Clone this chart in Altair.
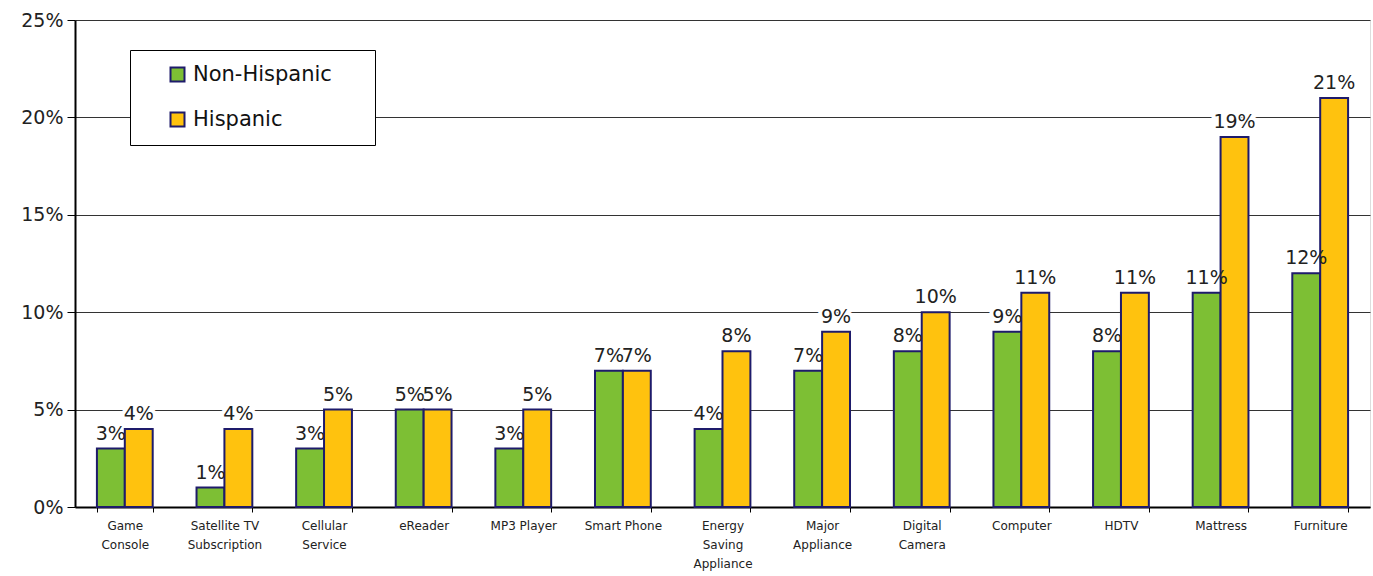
import altair as alt
import pandas as pd

categories = ["Game|Console", "Satellite TV|Subscription", "Cellular|Service", "eReader",
              "MP3 Player", "Smart Phone", "Energy|Saving|Appliance", "Major|Appliance",
              "Digital|Camera", "Computer", "HDTV", "Mattress", "Furniture"]
non_hispanic = [3, 1, 3, 5, 3, 7, 4, 7, 8, 9, 8, 11, 12]
hispanic = [4, 4, 5, 5, 5, 7, 8, 9, 10, 11, 11, 19, 21]
series = ["Non-Hispanic", "Hispanic"]
colors = ["#7DBF34", "#FFC20E"]
y_ticks = [0, 5, 10, 15, 20, 25]

rows = []
for c, a, b in zip(categories, non_hispanic, hispanic):
    rows.append({"category": c, "series": series[0], "value": a, "label": f"{a}%"})
    rows.append({"category": c, "series": series[1], "value": b, "label": f"{b}%"})
df = pd.DataFrame(rows)

FONT = "DejaVu Sans"
PAD = "\u00a0\u00a0\u2800"

x_enc = alt.X("category:N", sort=categories, title=None,
              scale=alt.Scale(paddingInner=0.44, paddingOuter=0.22),
              axis=alt.Axis(labelExpr="split(datum.label, '|')", labelAngle=0,
                            labelFontSize=12, labelLineHeight=19, labelPadding=8,
                            labelColor="#222", labelFont=FONT, labelBaseline="top",
                            tickBand="extent", tickSize=5, tickColor="#000",
                            domainColor="#000", domainWidth=2, grid=False))
xo_enc = alt.XOffset("series:N", sort=series, scale=alt.Scale(paddingInner=0, paddingOuter=0))
y_enc = alt.Y("value:Q", title=None,
              scale=alt.Scale(domain=[0, 25], nice=False),
              axis=alt.Axis(values=y_ticks, labelExpr="datum.value + '%'",
                            labelFontSize=19, labelFont=FONT, labelColor="#222",
                            labelPadding=4, tickSize=8, tickColor="#000",
                            domainColor="#000", domainWidth=2,
                            grid=True, gridColor="#333", gridWidth=1))

base = alt.Chart(df).encode(x=x_enc, xOffset=xo_enc, y=y_enc)

bars = base.mark_bar(stroke="#1E1B6B", strokeWidth=2).encode(
    color=alt.Color("series:N", sort=series,
                    scale=alt.Scale(domain=series, range=colors),
                    legend=alt.Legend(title=None, orient="none", legendX=55, legendY=30,
                                      direction="vertical",
                                      fillColor="white", strokeColor="#000",
                                      padding=14, symbolType="square", symbolSize=196,
                                      symbolStrokeColor="#1E1B6B", symbolStrokeWidth=2,
                                      symbolOffset=23, labelFontSize=21, labelFont=FONT,
                                      labelLimit=400,
                                      labelExpr="datum.label + '" + PAD + "'",
                                      labelColor="#111", rowPadding=22, labelOffset=5))
)

halo = base.mark_text(baseline="bottom", dy=-5, fontSize=19, font=FONT,
                      color="white", stroke="white", strokeWidth=8).encode(text="label:N")
labels = base.mark_text(baseline="bottom", dy=-5, fontSize=19, font=FONT,
                        color="#222").encode(text="label:N")

chart = alt.layer(halo, bars, labels).properties(
    width=1295, height=487,
    autosize=alt.AutoSizeParams(type="none"),
    padding={"left": 75, "top": 20, "right": 3, "bottom": 69},
).configure_view(stroke="#000", strokeWidth=2).configure(background="white")

chart.save("out.html", embed_options={"renderer": "svg", "actions": False})
